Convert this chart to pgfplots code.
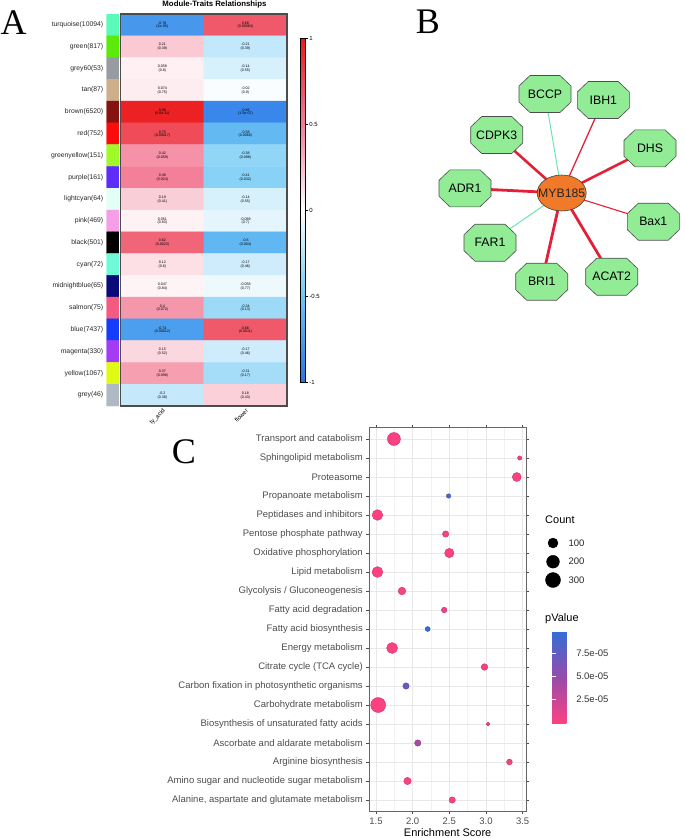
\documentclass[border=0pt]{standalone}
\usepackage{pgfplots}
\pgfplotsset{compat=1.18}
\usepackage{pgfplotstable}
\usepackage{fontspec}
\setmainfont{Liberation Sans}
\newfontfamily\panelfont{Liberation Serif}
\pgfplotsset{/pgf/number format/assume math mode=true}

\definecolor{nodegreen}{RGB}{146,236,150}
\definecolor{huborange}{RGB}{240,122,42}
\definecolor{edgered}{RGB}{228,32,56}
\definecolor{edgeteal}{RGB}{112,228,176}
\definecolor{axgrey}{RGB}{77,77,77}

% octagon and ellipse marks for the network
\pgfdeclareplotmark{oct}{%
  \pgfpathmoveto{\pgfqpoint{26pt}{8pt}}%
  \pgfpathlineto{\pgfqpoint{15pt}{18.5pt}}%
  \pgfpathlineto{\pgfqpoint{-15pt}{18.5pt}}%
  \pgfpathlineto{\pgfqpoint{-26pt}{8pt}}%
  \pgfpathlineto{\pgfqpoint{-26pt}{-8pt}}%
  \pgfpathlineto{\pgfqpoint{-15pt}{-18.5pt}}%
  \pgfpathlineto{\pgfqpoint{15pt}{-18.5pt}}%
  \pgfpathlineto{\pgfqpoint{26pt}{-8pt}}%
  \pgfpathclose\pgfusepathqfillstroke}
\pgfdeclareplotmark{ell}{%
  \pgfpathellipse{\pgfpointorigin}{\pgfqpoint{24.5pt}{0pt}}{\pgfqpoint{0pt}{18pt}}%
  \pgfusepathqfillstroke}

% module-trait correlations: x = trait, y = module row
\pgfplotstableread{
x y c p
0 0 -0.78 (2e-05)
1 0 0.68 (0.00064)
0 1 0.21 (0.39)
1 1 -0.21 (0.39)
0 2 0.058 (0.8)
1 2 -0.14 (0.55)
0 3 0.074 (0.75)
1 3 -0.02 (0.9)
0 4 0.96 (6.6e-11)
1 4 -0.88 (1.5e-07)
0 5 0.75 (0.00017)
1 5 -0.58 (0.0068)
0 6 0.42 (0.059)
1 6 -0.38 (0.098)
0 7 0.49 (0.024)
1 7 -0.41 (0.032)
0 8 0.19 (0.41)
1 8 -0.14 (0.55)
0 9 0.051 (0.83)
1 9 -0.089 (0.7)
0 10 0.62 (0.0023)
1 10 -0.6 (0.004)
0 11 0.12 (0.6)
1 11 -0.17 (0.46)
0 12 0.047 (0.84)
1 12 -0.058 (0.77)
0 13 0.4 (0.072)
1 13 -0.34 (0.13)
0 14 -0.74 (0.00012)
1 14 0.68 (0.0011)
0 15 0.15 (0.52)
1 15 -0.17 (0.46)
0 16 0.37 (0.098)
1 16 -0.31 (0.17)
0 17 -0.2 (0.38)
1 17 0.18 (0.43)
}\hmdata

\pgfplotstableread{
x y col
0 0 rgb255=90,250,185
1 0 rgb255=90,250,185
0 1 rgb255=90,235,10
1 1 rgb255=90,235,10
0 2 rgb255=150,156,162
1 2 rgb255=150,156,162
0 3 rgb255=205,175,140
1 3 rgb255=205,175,140
0 4 rgb255=135,18,18
1 4 rgb255=135,18,18
0 5 rgb255=250,12,12
1 5 rgb255=250,12,12
0 6 rgb255=160,250,40
1 6 rgb255=160,250,40
0 7 rgb255=95,45,250
1 7 rgb255=95,45,250
0 8 rgb255=225,255,245
1 8 rgb255=225,255,245
0 9 rgb255=245,160,230
1 9 rgb255=245,160,230
0 10 rgb255=0,0,0
1 10 rgb255=0,0,0
0 11 rgb255=110,250,215
1 11 rgb255=110,250,215
0 12 rgb255=10,10,120
1 12 rgb255=10,10,120
0 13 rgb255=245,90,130
1 13 rgb255=245,90,130
0 14 rgb255=20,60,250
1 14 rgb255=20,60,250
0 15 rgb255=165,60,245
1 15 rgb255=165,60,245
0 16 rgb255=225,250,20
1 16 rgb255=225,250,20
0 17 rgb255=175,185,195
1 17 rgb255=175,185,195
}\stripdata

% KEGG enrichment: y = row from the bottom
\pgfplotstableread{
y x count p
20 1.745 207 1e-6
19 3.46 3 1e-5
18 3.42 73 1e-6
17 2.49 4 8.5e-5
16 1.52 120 1e-7
15 2.45 22 3e-6
14 2.50 82 1e-6
13 1.52 125 1e-7
12 1.855 43 1e-6
11 2.43 13 5e-6
10 2.205 7 9.8e-5
9 1.72 130 1e-7
8 2.98 26 2e-6
7 1.91 22 7.2e-5
6 1.53 300 1e-8
5 3.03 1 5e-6
4 2.07 22 4e-5
3 3.32 15 5e-6
2 1.93 37 1e-6
1 2.54 22 1e-6
}\keggdata

\pgfplotstableread{
x y name
545 94 BCCP
603.3 100 IBH1
496.7 135 CDPK3
650 148.3 DHS
465 188.3 ADR1
653.3 221.7 Bax1
490 242.7 FAR1
541.7 281.7 BRI1
611.7 276.7 ACAT2
}\netnodes

\begin{document}
\begin{tikzpicture}
\path[use as bounding box] (0,0) rectangle (685pt,-838pt);

% panel letters and heatmap title
\node[font=\panelfont\fontsize{36}{36}\selectfont] at (13.5pt,-22.5pt) {A};
\node[font=\panelfont\fontsize{36}{36}\selectfont] at (428pt,-22pt) {B};
\node[font=\panelfont\fontsize{36}{36}\selectfont] at (184pt,-452pt) {C};
\node[font=\bfseries\fontsize{7.8}{9}\selectfont] at (214.5pt,-4.5pt) {Module-Traits Relationships};

% module colour strip with names
\begin{axis}[
  at={(106.7pt,-14pt)}, anchor=north west,
  scale only axis, width=12.3pt, height=392pt,
  xmin=-0.5, xmax=1.5, ymin=-0.5, ymax=17.5, y dir=reverse,
  axis line style={draw=none},
  xtick=\empty, ytick={0,...,17}, major tick length=0pt,
  yticklabels={turquoise(10094),green(817),grey60(53),tan(87),brown(6520),red(752),greenyellow(151),purple(161),lightcyan(64),pink(469),black(501),cyan(72),midnightblue(65),salmon(75),blue(7437),magenta(330),yellow(1067),grey(46)},
  yticklabel style={font=\fontsize{6.8}{8}\selectfont, text=black!85},
]
\addplot[matrix plot*, mesh/cols=2, mesh/color input=explicit, point meta=explicit symbolic]
  table[x=x, y=y, meta=col] {\stripdata};
\end{axis}

% correlation heatmap
\begin{axis}[
  at={(120.7pt,-14pt)}, anchor=north west,
  scale only axis, width=166.3pt, height=392pt,
  xmin=-0.5, xmax=1.5, ymin=-0.5, ymax=17.5, y dir=reverse,
  axis on top,
  axis line style={draw=black!70, line width=1.3pt},
  xtick={0,1}, xticklabels={ty\_acid,flower},
  xticklabel style={rotate=45, anchor=north east, font=\fontsize{6}{7}\selectfont, inner sep=1.5pt},
  ytick=\empty, major tick length=0pt,
  colormap={hm}{rgb255(0cm)=(40,115,230) rgb255(1cm)=(110,200,245) rgb255(2cm)=(255,255,255) rgb255(3cm)=(243,125,150) rgb255(4cm)=(235,25,25)},
  point meta min=-1, point meta max=1,
  colorbar,
  colorbar style={
    at={(parent axis.north east)}, anchor=north west,
    xshift=4.7pt, yshift=-24.3pt,
    scale only axis, width=5pt, height=343.7pt,
    ytick={-1,-0.5,0,0.5,1}, yticklabels={-1,-0.5,0,0.5,1},
    ytick pos=right, yticklabel pos=right,
    yticklabel style={font=\fontsize{6}{7}\selectfont, inner sep=1pt},
    major tick length=3pt, tick align=outside,
    tick style={black, line width=0.6pt},
    axis line style={black, line width=0.9pt},
  },
]
\addplot[matrix plot*, mesh/cols=2, point meta=explicit] table[x=x, y=y, meta=c] {\hmdata};
\addplot[draw=none, mark=none, nodes near coords, point meta=explicit symbolic,
  nodes near coords style={anchor=center, text=black, font=\fontsize{3.6}{4}\selectfont, inner sep=0pt, yshift=2pt}]
  table[x=x, y=y, meta=c] {\hmdata};
\addplot[draw=none, mark=none, nodes near coords, point meta=explicit symbolic,
  nodes near coords style={anchor=center, text=black, font=\fontsize{3.6}{4}\selectfont, inner sep=0pt, yshift=-2pt}]
  table[x=x, y=y, meta=p] {\hmdata};
\end{axis}

% co-expression network
\begin{axis}[
  at={(420pt,0pt)}, anchor=north west,
  scale only axis, width=265pt, height=320pt,
  xmin=420, xmax=685, ymin=0, ymax=320, y dir=reverse,
  hide axis, clip=false,
]
\addplot[edgeteal, line width=1pt] coordinates {(561.7,193) (545,94)};
\addplot[edgered, line width=1.3pt] coordinates {(561.7,193) (603.3,100)};
\addplot[edgered, line width=2.6pt] coordinates {(561.7,193) (496.7,135)};
\addplot[edgered, line width=2.6pt] coordinates {(561.7,193) (650,148.3)};
\addplot[edgered, line width=2.8pt] coordinates {(561.7,193) (465,188.3)};
\addplot[edgered, line width=1.1pt] coordinates {(561.7,193) (653.3,221.7)};
\addplot[edgeteal, line width=1pt] coordinates {(561.7,193) (490,242.7)};
\addplot[edgered, line width=2.8pt] coordinates {(561.7,193) (541.7,281.7)};
\addplot[edgered, line width=2.8pt] coordinates {(561.7,193) (611.7,276.7)};
\addplot[only marks, mark=oct, mark options={fill=nodegreen, draw=black!70, line width=0.6pt},
  nodes near coords, point meta=explicit symbolic,
  nodes near coords style={anchor=center, text=black, font=\fontsize{12.3}{14}\selectfont, inner sep=0pt}]
  table[x=x, y=y, meta=name] {\netnodes};
\addplot[only marks, mark=ell, mark options={fill=huborange, draw=black!75, line width=0.6pt},
  nodes near coords, point meta=explicit symbolic,
  nodes near coords style={anchor=center, text=black!85, font=\fontsize{12.3}{14}\selectfont, inner sep=0pt}]
  coordinates {(561.7,193) [MYB185]};
\end{axis}

% enrichment dot plot
\begin{axis}[
  at={(369.3pt,-427.6pt)}, anchor=north west,
  scale only axis, width=156.7pt, height=383.8pt,
  xmin=1.409, xmax=3.546, ymin=0.4, ymax=20.6,
  xtick={1.5,2,2.5,3,3.5}, xticklabels={1.5,2.0,2.5,3.0,3.5},
  minor x tick num=1, minor tick length=0pt,
  ytick={1,...,20},
  yticklabels={{Alanine, aspartate and glutamate metabolism},Amino sugar and nucleotide sugar metabolism,Arginine biosynthesis,Ascorbate and aldarate metabolism,Biosynthesis of unsaturated fatty acids,Carbohydrate metabolism,Carbon fixation in photosynthetic organisms,Citrate cycle (TCA cycle),Energy metabolism,Fatty acid biosynthesis,Fatty acid degradation,Glycolysis / Gluconeogenesis,Lipid metabolism,Oxidative phosphorylation,Pentose phosphate pathway,Peptidases and inhibitors,Propanoate metabolism,Proteasome,Sphingolipid metabolism,Transport and catabolism},
  ticklabel style={font=\fontsize{9.5}{11}\selectfont, text=axgrey},
  major tick length=3pt, tick align=outside,
  tick style={black!70, line width=0.6pt},
  grid=both,
  major grid style={black!9, line width=0.6pt},
  minor grid style={black!5, line width=0.4pt},
  axis line style={black!60, line width=0.9pt},
  xlabel={Enrichment Score},
  xlabel style={font=\fontsize{11}{13}\selectfont, text=black, yshift=3pt},
  colormap={pv}{rgb255(0cm)=(252,65,130) rgb255(1cm)=(150,75,170) rgb255(2cm)=(50,110,215)},
  point meta min=0, point meta max=9.86e-5,
  colorbar,
  colorbar style={
    at={(parent axis.north east)}, anchor=north west,
    xshift=17.7pt, yshift=-203.4pt,
    scale only axis, width=19pt, height=92pt,
    axis line style={draw=none},
    ytick={2.5e-5,5e-5,7.5e-5}, yticklabels={2.5e-05,5.0e-05,7.5e-05},
    scaled y ticks=false,
    ytick pos=both, yticklabel pos=right,
    tick align=inside, major tick length=3.5pt,
    tick style={white, line width=0.6pt},
    yticklabel style={font=\fontsize{9.5}{11}\selectfont, text=black!80, xshift=1.5pt},
  },
]
\addplot[scatter, only marks, mark=*, scatter src=explicit,
  visualization depends on={1.58+0.342*sqrt(\thisrow{count}) \as \rad},
  scatter/@pre marker code/.append style={/tikz/mark size=\rad pt}]
  table[x=x, y=y, meta=p] {\keggdata};
\end{axis}

% size legend
\node[anchor=west, font=\fontsize{11}{13}\selectfont] at (541.7pt,-520pt) {Count};
\node[anchor=west, font=\fontsize{11}{13}\selectfont] at (541.7pt,-619pt) {pValue};
\begin{axis}[
  at={(530pt,-530pt)}, anchor=north west,
  scale only axis, width=100pt, height=60pt,
  xmin=530, xmax=630, ymin=530, ymax=590, y dir=reverse,
  hide axis, clip=false,
]
\addplot[only marks, mark=*, black, mark size=5pt, nodes near coords, point meta=explicit symbolic,
  nodes near coords style={anchor=west, text=black!85, xshift=12pt, font=\fontsize{9.5}{11}\selectfont}]
  coordinates {(553,543) [100]};
\addplot[only marks, mark=*, black, mark size=6.4pt, nodes near coords, point meta=explicit symbolic,
  nodes near coords style={anchor=west, text=black!85, xshift=12pt, font=\fontsize{9.5}{11}\selectfont}]
  coordinates {(553,561.7) [200]};
\addplot[only marks, mark=*, black, mark size=7.5pt, nodes near coords, point meta=explicit symbolic,
  nodes near coords style={anchor=west, text=black!85, xshift=12pt, font=\fontsize{9.5}{11}\selectfont}]
  coordinates {(553,580) [300]};
\end{axis}
\end{tikzpicture}
\end{document}
